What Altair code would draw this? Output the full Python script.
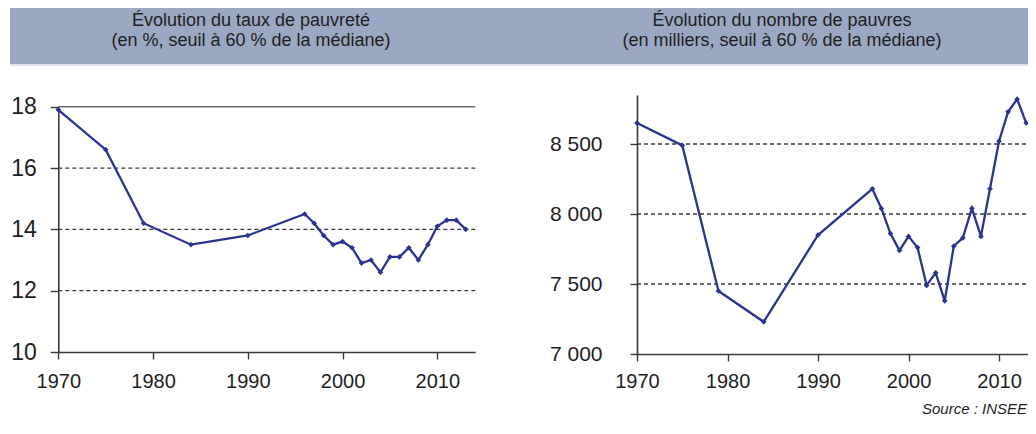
import altair as alt
import pandas as pd

# ---- data ----
years = [1970, 1975, 1979, 1984, 1990, 1996, 1997, 1998, 1999, 2000, 2001, 2002,
         2003, 2004, 2005, 2006, 2007, 2008, 2009, 2010, 2011, 2012, 2013]
taux = [17.9, 16.6, 14.2, 13.5, 13.8, 14.5, 14.2, 13.8, 13.5, 13.6, 13.4, 12.9,
        13.0, 12.6, 13.1, 13.1, 13.4, 13.0, 13.5, 14.1, 14.3, 14.3, 14.0]
nombre = [8650, 8490, 7450, 7230, 7850, 8180, 8040, 7860, 7740, 7840, 7760, 7490,
          7580, 7380, 7770, 7830, 8040, 7840, 8180, 8520, 8730, 8820, 8650]

year_ticks = [1970, 1980, 1990, 2000, 2010]
taux_ticks = [10, 12, 14, 16, 18]
taux_grid = [12, 14, 16]
taux_top = [18]
nombre_ticks = [7000, 7500, 8000, 8500]
nombre_grid = [7500, 8000, 8500]

title_left = ["Évolution du taux de pauvreté", "(en %, seuil à 60 % de la médiane)"]
title_right = ["Évolution du nombre de pauvres", "(en milliers, seuil à 60 % de la médiane)"]
source_text = "Source : INSEE"

# ---- style ----
W, H = 1020, 410
FONT = "Liberation Sans"
XFONT = "'Liberation Sans Narrow', 'Liberation Sans', Arial, sans-serif"
NAVY = "#2B3390"
AX = "#3a3a3a"
BAND = "#9BA8C3"
TXT = "#1e1e1e"

df_l = pd.DataFrame({"annee": years, "v": taux})
df_r = pd.DataFrame({"annee": years, "v": nombre})


def axis(orient, values, offset, tick, pad, size, font, fmt=None, expr=None):
    kw = dict(orient=orient, values=values, offset=offset, tickSize=tick,
              labelPadding=pad, labelFontSize=size, labelFont=font,
              labelColor=TXT, domainColor=AX, domainWidth=1.6, tickColor=AX,
              tickWidth=1.4, grid=False, labelOverlap=False, labelFlush=False)
    if fmt:
        kw["format"] = fmt
    if expr:
        kw["labelExpr"] = expr
    return alt.Axis(**kw)


def panel(df, xmin, xmax, xs, ys, ax_x, ax_y, grid_vals, top_vals=None):
    X = lambda f: alt.X(f, scale=xs, axis=ax_x, title=None)
    Y = lambda f: alt.Y(f, scale=ys, axis=ax_y, title=None)
    gdf = pd.DataFrame({"g": grid_vals, "x0": [xmin] * len(grid_vals), "x1": [xmax] * len(grid_vals)})
    layers = [
        alt.Chart(gdf).mark_rule(color=AX, strokeWidth=1.3, strokeDash=[4, 3]).encode(
            x=X("x0:Q"), x2="x1:Q", y=Y("g:Q"))
    ]
    if top_vals:
        tdf = pd.DataFrame({"g": top_vals, "x0": [xmin] * len(top_vals), "x1": [xmax] * len(top_vals)})
        layers.append(
            alt.Chart(tdf).mark_rule(color="#6a6a6a", strokeWidth=1.6).encode(
                x=X("x0:Q"), x2="x1:Q", y=Y("g:Q")))
    layers.append(alt.Chart(df).mark_line(color=NAVY, strokeWidth=2.3).encode(x=X("annee:Q"), y=Y("v:Q")))
    layers.append(alt.Chart(df).mark_point(shape="diamond", filled=True, size=32, color=NAVY, opacity=1).encode(
        x=X("annee:Q"), y=Y("v:Q")))
    return alt.layer(*layers)


# left panel
xl = alt.Scale(domain=[1970, 2014], range=[50.3, 467.2], nice=False, zero=False)
yl = alt.Scale(domain=[10, 18], range=[344, 98.7], nice=False, zero=False)
ax_xl = axis("bottom", year_ticks, 344 - H, 7, 12, 20, XFONT, fmt="d")
ax_yl = axis("left", taux_ticks, -50.3, 8, 14, 23, FONT, fmt="d")
left = panel(df_l, 1970, 2014, xl, yl, ax_xl, ax_yl, taux_grid, taux_top)

# right panel
xr = alt.Scale(domain=[1970, 2013.2], range=[629, 1020], nice=False, zero=False)
yr = alt.Scale(domain=[7000, 8850], range=[346, 87], nice=False, zero=False)
ax_xr = axis("bottom", year_ticks, 346 - H, 7, 10, 20, XFONT, fmt="d")
ax_yr = axis("left", nombre_ticks, -629, 7, 28, 21, FONT,
             expr="replace(format(datum.value, ','), ',', ' ')")
right = panel(df_r, 1970, 2013.2, xr, yr, ax_xr, ax_yr, nombre_grid)

# header band and texts
one = pd.DataFrame({"k": [0]})
band = alt.Chart(one).mark_rect(color=BAND).encode(
    x=alt.value(2), x2=alt.value(1020), y=alt.value(0), y2=alt.value(56))
band_edge = alt.Chart(one).mark_rect(color="#dde2ec").encode(
    x=alt.value(2), x2=alt.value(1020), y=alt.value(56), y2=alt.value(58))


def txt(s, x, y, size=18, align="center", style="normal", font=FONT):
    return alt.Chart(one).mark_text(fontSize=size, font=font, color=TXT, align=align,
                                    baseline="alphabetic", fontStyle=style).encode(
        x=alt.value(x), y=alt.value(y), text=alt.value(s))


header = alt.layer(
    band, band_edge,
    txt(title_left[0], 243, 18), txt(title_left[1], 243, 38),
    txt(title_right[0], 774, 18), txt(title_right[1], 774, 38),
    txt(source_text, 1019, 406, size=15, align="right", style="italic", font=XFONT),
)

chart = alt.layer(header, left, right).resolve_scale(
    x="independent", y="independent"
).properties(
    width=W, height=H, padding=0, autosize=alt.AutoSizeParams(type="none")
).configure_view(strokeWidth=0)

chart.save("out.html", embed_options={"renderer": "svg", "actions": False})
